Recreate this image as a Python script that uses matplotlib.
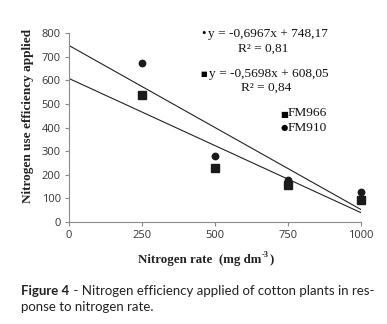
import matplotlib
matplotlib.use("Agg")
import matplotlib.pyplot as plt
import numpy as np

rates = [250, 500, 750, 1000]
fm910 = [675, 277, 175, 128]
fm966 = [540, 226, 157, 91]
xticks = [0, 250, 500, 750, 1000]
yticks = [0, 100, 200, 300, 400, 500, 600, 700, 800]
fit910 = (-0.6967, 748.17)
fit966 = (-0.5698, 608.05)

W, H = 387, 324
fig = plt.figure(figsize=(W/100, H/100), dpi=100)
ax = fig.add_axes([69/W, 1-221.7/H, (361-69)/W, (221.7-33.3)/H])

xl = np.array([0, 1000])
ax.plot(xl, fit910[0]*xl + fit910[1], color='#222222', lw=0.8)
ax.plot(xl, fit966[0]*xl + fit966[1], color='#222222', lw=0.8)
ax.plot(rates, fm966, 's', color='#1a1a1a', ms=5.2, ls='none', clip_on=False, zorder=3)
ax.plot(rates, fm910, 'o', color='#1a1a1a', ms=4.6, ls='none', clip_on=False, zorder=3)

ax.set_xlim(0, 1000)
ax.set_ylim(0, 800)
ax.set_xticks(xticks)
ax.set_yticks(yticks)
ax.spines['top'].set_visible(False)
ax.spines['right'].set_visible(False)
for s in ('left', 'bottom'):
    ax.spines[s].set_color('#8a8a8a')
    ax.spines[s].set_linewidth(0.8)
ax.tick_params(direction='out', length=3, width=0.8, color='#8a8a8a',
               labelsize=8, labelcolor='#333333', pad=3)
for t in ax.get_xticklabels() + ax.get_yticklabels():
    t.set_family('Open Sans')

serif = 'Liberation Serif'
fig.text(28/W, 1-116/H, 'Nitrogen use efficiency applied', rotation=90,
         ha='center', va='center', family=serif, fontweight='bold', fontsize=9.5, color='#222222')

# x label with superscript built from pieces
lab = dict(family=serif, fontweight='bold', color='#222222')
xa = fig.text(138/W, 1-260/H, 'Nitrogen rate  (mg dm', ha='left', va='center', fontsize=9.3, **lab)
fig.canvas.draw()
b = xa.get_window_extent()
sup = fig.text((b.x1 + 0.5)/W, 1-255/H, '-3', ha='left', va='center', fontsize=6, **lab)
fig.canvas.draw()
b2 = sup.get_window_extent()
fig.text((b2.x1 + 0.3)/W, 1-260/H, ')', ha='left', va='center', fontsize=9.3, **lab)

eq = dict(family=serif, fontsize=9.6, color='#111111')
fig.text(203/W, 1-34/H, '\u2022', ha='center', va='center', family=serif, fontsize=9)
fig.text(208/W, 1-33.5/H, 'y = -0,6967x + 748,17', ha='left', va='center', **eq)
fig.text(263/W, 1-49/H, 'R² = 0,81', ha='center', va='center', **eq)
fig.text(204/W, 1-74/H, '\u25a0', ha='center', va='center', family='DejaVu Sans', fontsize=5)
fig.text(209/W, 1-73.5/H, 'y = -0,5698x + 608,05', ha='left', va='center', **eq)
fig.text(266/W, 1-88/H, 'R² = 0,84', ha='center', va='center', **eq)

fig.text(284/W, 1-114/H, '\u25a0', ha='center', va='center', family='DejaVu Sans', fontsize=6)
fig.text(288/W, 1-113.5/H, 'FM966', ha='left', va='center', **eq)
fig.text(284/W, 1-127.5/H, '\u25cf', ha='center', va='center', family='DejaVu Sans', fontsize=6)
fig.text(288/W, 1-127.5/H, 'FM910', ha='left', va='center', **eq)

cap = 'Lato'
cs = 9.5
t1 = fig.text(21/W, 1-291/H, 'Figure 4', ha='left', va='center', family=cap, fontweight='bold', fontsize=cs, color='#222222')
fig.canvas.draw()
bb = t1.get_window_extent()
fig.text((bb.x1 + 1)/W, 1-291/H, ' - Nitrogen efficiency applied of cotton plants in res-',
         ha='left', va='center', family=cap, fontsize=cs, color='#222222')
fig.text(21/W, 1-307/H, 'ponse to nitrogen rate.', ha='left', va='center', family=cap, fontsize=cs, color='#222222')

fig.savefig('out.png', dpi=100)
